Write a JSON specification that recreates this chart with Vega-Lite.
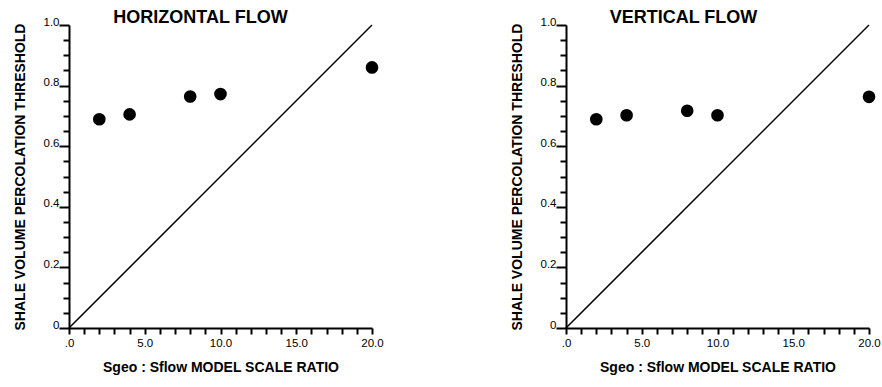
{
  "$schema": "https://vega.github.io/schema/vega-lite/v6.json",
  "background": "white",
  "padding": {"left": 13, "top": 9, "right": 4, "bottom": 4},
  "spacing": 126,
  "datasets": {
    "horizontal": [
      {"ratio": 2, "threshold": 0.689},
      {"ratio": 4, "threshold": 0.705},
      {"ratio": 8, "threshold": 0.764},
      {"ratio": 10, "threshold": 0.772},
      {"ratio": 20, "threshold": 0.86}
    ],
    "vertical": [
      {"ratio": 2, "threshold": 0.689},
      {"ratio": 4, "threshold": 0.702},
      {"ratio": 8, "threshold": 0.717},
      {"ratio": 10, "threshold": 0.702},
      {"ratio": 20, "threshold": 0.763}
    ],
    "diagonal": [
      {"ratio": 0, "threshold": 0},
      {"ratio": 20, "threshold": 1}
    ]
  },
  "config": {
    "view": {"stroke": null},
    "font": "Liberation Sans",
    "axis": {
      "grid": false,
      "domainColor": "black",
      "domainWidth": 2,
      "tickColor": "black",
      "tickWidth": 2,
      "labelColor": "black",
      "labelFont": "Liberation Sans",
      "labelFontSize": 11.5,
      "titleFont": "Liberation Sans",
      "titleFontWeight": "bold",
      "titleFontSize": 14,
      "titleColor": "black"
    },
    "title": {"font": "Liberation Sans", "fontSize": 18, "fontWeight": "bold", "color": "black"}
  },
  "hconcat": [
    {
      "width": 303,
      "height": 303,
      "title": {"text": "HORIZONTAL FLOW", "anchor": "middle", "frame": "group", "dx": -20, "offset": -11},
      "encoding": {
        "x": {
          "field": "ratio", "type": "quantitative",
          "scale": {"domain": [0, 20], "nice": false, "zero": true},
          "axis": {
            "title": "Sgeo : Sflow MODEL SCALE RATIO",
            "values": [0,1,2,3,4,5,6,7,8,9,10,11,12,13,14,15,16,17,18,19,20],
            "labelExpr": "datum.value % 5 == 0 ? (datum.value == 0 ? '.0' : format(datum.value, '.1f')) : ''",
            "tickSize": 6,
            "labelPadding": 3,
            "labelFlush": false,
            "labelOverlap": false,
            "titlePadding": 12
          }
        },
        "y": {
          "field": "threshold", "type": "quantitative",
          "scale": {"domain": [0, 1], "nice": false},
          "axis": {
            "title": "SHALE VOLUME PERCOLATION THRESHOLD",
            "values": [0,0.05,0.1,0.15,0.2,0.25,0.3,0.35,0.4,0.45,0.5,0.55,0.6,0.65,0.7,0.75,0.8,0.85,0.9,0.95,1],
            "labelExpr": "abs(datum.value*5 - round(datum.value*5)) < 0.001 ? (datum.value == 0 ? '0' : format(datum.value, '.1f')) : ''",
            "tickSize": {"condition": {"test": "abs(datum.value*5 - round(datum.value*5)) < 0.001", "value": 10}, "value": 6},
            "labelBaseline": "alphabetic",
            "labelPadding": 0,
            "labelFlush": false,
            "labelOverlap": false,
            "titlePadding": 16
          }
        }
      },
      "layer": [
        {
          "data": {"name": "diagonal"},
          "mark": {"type": "line", "color": "black", "strokeWidth": 1.5}
        },
        {
          "data": {"name": "horizontal"},
          "mark": {"type": "point", "filled": true, "color": "black", "opacity": 1, "size": 160}
        }
      ]
    },
    {
      "width": 303,
      "height": 303,
      "title": {"text": "VERTICAL FLOW", "anchor": "middle", "frame": "group", "dx": -34, "offset": -11},
      "encoding": {
        "x": {
          "field": "ratio", "type": "quantitative",
          "scale": {"domain": [0, 20], "nice": false, "zero": true},
          "axis": {
            "title": "Sgeo : Sflow MODEL SCALE RATIO",
            "values": [0,1,2,3,4,5,6,7,8,9,10,11,12,13,14,15,16,17,18,19,20],
            "labelExpr": "datum.value % 5 == 0 ? (datum.value == 0 ? '.0' : format(datum.value, '.1f')) : ''",
            "tickSize": 6,
            "labelPadding": 3,
            "labelFlush": false,
            "labelOverlap": false,
            "titlePadding": 12
          }
        },
        "y": {
          "field": "threshold", "type": "quantitative",
          "scale": {"domain": [0, 1], "nice": false},
          "axis": {
            "title": "SHALE VOLUME PERCOLATION THRESHOLD",
            "values": [0,0.05,0.1,0.15,0.2,0.25,0.3,0.35,0.4,0.45,0.5,0.55,0.6,0.65,0.7,0.75,0.8,0.85,0.9,0.95,1],
            "labelExpr": "abs(datum.value*5 - round(datum.value*5)) < 0.001 ? (datum.value == 0 ? '0' : format(datum.value, '.1f')) : ''",
            "tickSize": {"condition": {"test": "abs(datum.value*5 - round(datum.value*5)) < 0.001", "value": 10}, "value": 6},
            "labelBaseline": "alphabetic",
            "labelPadding": 0,
            "labelFlush": false,
            "labelOverlap": false,
            "titlePadding": 16
          }
        }
      },
      "layer": [
        {
          "data": {"name": "diagonal"},
          "mark": {"type": "line", "color": "black", "strokeWidth": 1.5}
        },
        {
          "data": {"name": "vertical"},
          "mark": {"type": "point", "filled": true, "color": "black", "opacity": 1, "size": 160}
        }
      ]
    }
  ]
}
